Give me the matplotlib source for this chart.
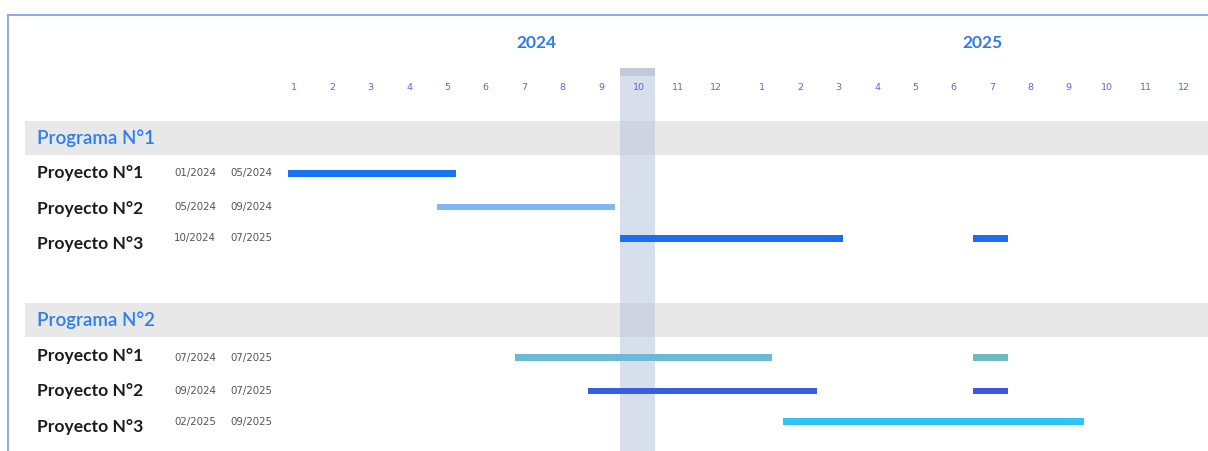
import matplotlib
matplotlib.use("Agg")
import matplotlib.pyplot as plt
from matplotlib.lines import Line2D

# ---------------- data ----------------
years = ["2024", "2025"]
months = [str(m) for m in range(1, 13)]
programs = ["Programa N°1", "Programa N°2"]
projects = ["Proyecto N°1", "Proyecto N°2", "Proyecto N°3"]
start_dates = [["01/2024", "05/2024", "10/2024"],
               ["07/2024", "09/2024", "02/2025"]]
end_dates = [["05/2024", "09/2024", "07/2025"],
             ["07/2025", "07/2025", "09/2025"]]
# bar segments on the month axis (0 = Jan 2024 column, 12.2 = Jan 2025 column)
segments = [
    [[(-0.16, 4.22)], [(3.73, 8.37)], [(8.50, 14.31), (17.70, 18.61)]],
    [[(5.76, 12.46), (17.70, 18.61)], [(7.66, 13.63), (17.70, 18.61)], [(12.75, 20.59)]],
]
bar_colors = [
    [["#1673f2"], ["#80b6f4"], ["#1a6ff0", "#1a6ff0"]],
    [["#6cb9d6", "#72b8c4"], ["#3660dd", "#3b57da"], ["#2fc3f3"]],
]
current_month = (8.50, 9.41)   # highlighted column: 10/2024

# ---------------- layout ----------------
W, H = 1208, 451
fig = plt.figure(figsize=(W / 100, H / 100), dpi=100)
ax = fig.add_axes([0, 0, 1, 1])
PX = 38.36          # px per month
X0 = 294            # px of first month column
ROW = 35.5          # px per row
Y0 = 138            # px of first program band

def xpx(p):
    return (p - X0) / PX

def ypx(p):
    return (p - Y0) / ROW

ax.set_xlim(xpx(0), xpx(W))
ax.set_ylim(ypx(H), ypx(0))
ax.axis("off")

year_gap = 0.2
month_pos = [yi * (12 + year_gap) + mi for yi in range(len(years)) for mi in range(12)]
month_lbl = [m for _ in years for m in months]

# year labels
year_centers = [6.31, 17.95]
for yc, yl in zip(year_centers, years):
    ax.text(yc, ypx(43), yl, ha="center", va="center", fontsize=12.5,
            fontweight="bold", color="#2f7be9", family=["Lato", "DejaVu Sans"])

# month labels
for mp, ml in zip(month_pos, month_lbl):
    ax.text(mp, ypx(88), ml, ha="center", va="center", fontsize=6.8,
            color="#5668d4", family=["DejaVu Sans"], zorder=5)

group_step = 5.13
label_x = xpx(37)
d1_x = xpx(174)
d2_x = xpx(230)
bar_h = 6.5 / ROW
# small vertical shift of dates/bars relative to the row label (px)
row_shift = [[0, -2, -6], [2, 0, -5]]

for gi, prog in enumerate(programs):
    gy = gi * group_step
    ax.barh(gy, xpx(W) - xpx(25), left=xpx(25), height=34 / ROW,
            color="#e8e8e8", zorder=1)
    ax.text(label_x, gy, prog, ha="left", va="center", fontsize=13.5,
            fontweight="semibold", color="#2b7df2", family=["Lato", "DejaVu Sans"], zorder=5)
    for pi, proj in enumerate(projects):
        ry = gy + 1 + pi
        by = ry + row_shift[gi][pi] / ROW
        ax.text(label_x, ry, proj, ha="left", va="center", fontsize=12.6,
                fontweight="bold", color="#1c1c1c", family=["Lato", "DejaVu Sans"], zorder=5)
        ax.text(d1_x, by, start_dates[gi][pi], ha="left", va="center", fontsize=7.4,
                color="#555555", family=["DejaVu Sans"], zorder=5)
        ax.text(d2_x, by, end_dates[gi][pi], ha="left", va="center", fontsize=7.4,
                color="#555555", family=["DejaVu Sans"], zorder=5)
        for (s, e), c in zip(segments[gi][pi], bar_colors[gi][pi]):
            ax.barh(by, e - s, left=s, height=bar_h, color=c, zorder=3)

# highlighted current month column
ax.axvspan(current_month[0], current_month[1], ymin=0, ymax=1 - 68 / H,
           color="#b9c5dd", alpha=0.55, zorder=2, lw=0)
ax.axvspan(current_month[0], current_month[1], ymin=1 - 76 / H, ymax=1 - 68 / H,
           color="#b4bccb", alpha=0.6, zorder=2, lw=0)

# frame lines
fig.add_artist(Line2D([8 / W, 1], [1 - 15 / H, 1 - 15 / H], color="#86a3e3", lw=1.3))
fig.add_artist(Line2D([8 / W, 8 / W], [0, 1 - 15 / H], color="#86a3e3", lw=1.3))

fig.savefig("out.png", dpi=100, facecolor="white")
